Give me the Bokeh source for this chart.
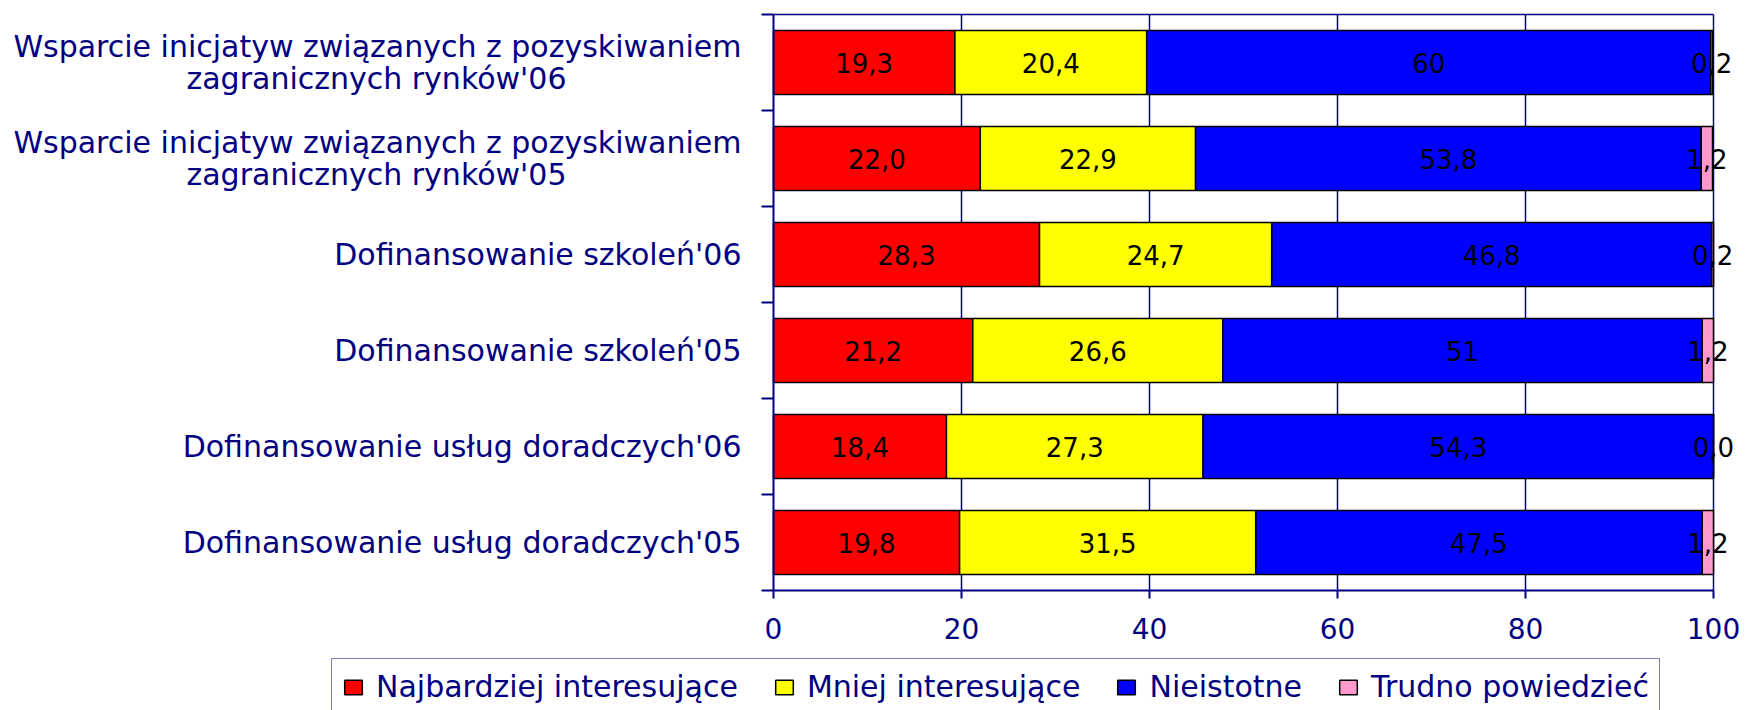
from bokeh.plotting import figure
from bokeh.models import (ColumnDataSource, LabelSet, Legend, LegendItem,
                          FixedTicker, Range1d, LinearAxis)
from bokeh.core.properties import value
from bokeh.embed import file_html
from bokeh.resources import INLINE

# ---------------- data (top to bottom) ----------------
categories = [
    "Wsparcie inicjatyw związanych z pozyskiwaniem\nzagranicznych rynków'06",
    "Wsparcie inicjatyw związanych z pozyskiwaniem\nzagranicznych rynków'05",
    "Dofinansowanie szkoleń'06",
    "Dofinansowanie szkoleń'05",
    "Dofinansowanie usług doradczych'06",
    "Dofinansowanie usług doradczych'05",
]
najbardziej = [19.3, 22.0, 28.3, 21.2, 18.4, 19.8]
mniej = [20.4, 22.9, 24.7, 26.6, 27.3, 31.5]
nieistotne = [60, 53.8, 46.8, 51, 54.3, 47.5]
trudno = [0.2, 1.2, 0.2, 1.2, 0.0, 1.2]

series_names = ["Najbardziej interesujące", "Mniej interesujące",
                "Nieistotne", "Trudno powiedzieć"]
x_ticks = [0, 20, 40, 60, 80, 100]

# ---------------- styling / layout ----------------
colors = ["#FF0000", "#FFFF00", "#0000FF", "#FF99CC"]
NAVY = "#000080"
FONT = "DejaVu Sans"

W, H = 1746, 710
X0_PX, X100_PX = 773, 1713      # canvas pixels of x = 0 and x = 100
YTOP_PX, YBOT_PX = 14, 590      # canvas pixels of the top / bottom of the bar area
LINE_PX = 32                    # line spacing of two-line category labels

n = len(categories)
ypos = [n - i - 0.5 for i in range(n)]
series = [najbardziej, mniej, nieistotne, trudno]
keys = ["s0", "s1", "s2", "s3"]

sx = (X100_PX - X0_PX) / 100.0
sy = (YBOT_PX - YTOP_PX) / float(n)
x_range = Range1d(-X0_PX / sx, (W - X0_PX) / sx)
y_range = Range1d(-(H - YBOT_PX) / sy, n + YTOP_PX / sy)

src = ColumnDataSource(dict(y=ypos, **{k: v for k, v in zip(keys, series)}))


def fmt(v):
    return str(v) if isinstance(v, int) else f"{v:.1f}".replace(".", ",")


# data labels: centre of each segment
lx, ly, lt = [], [], []
left = [0.0] * n
for vals in series:
    for i, v in enumerate(vals):
        lx.append(left[i] + v / 2.0)
        ly.append(ypos[i])
        lt.append(fmt(v))
        left[i] += v
lab_src = ColumnDataSource(dict(x=lx, y=ly, t=lt))

p = figure(width=W, height=H, x_range=x_range, y_range=y_range,
           output_backend="svg", toolbar_location=None,
           min_border_left=0, min_border_right=0,
           min_border_top=0, min_border_bottom=0)
p.background_fill_color = "white"
p.border_fill_color = "white"
p.outline_line_color = None
p.grid.visible = False

# vertical grid lines inside the bar area
gx = [t for t in x_ticks if t != x_ticks[0]]
p.segment(x0=gx, x1=gx, y0=[0] * len(gx), y1=[n] * len(gx),
          line_color=NAVY, line_width=1.5, level="underlay")

renderers = p.hbar_stack(keys, y="y", height=0.667, color=colors,
                         source=src, line_color="black", line_width=1.5)

# x axis at y = 0
xa = p.xaxis[0]
xa.fixed_location = 0
xa.ticker = FixedTicker(ticks=x_ticks)
xa.bounds = (0, 100)
xa.axis_line_color = NAVY
xa.axis_line_width = 2
xa.major_tick_line_color = NAVY
xa.major_tick_line_width = 2
xa.major_tick_out = 8
xa.major_tick_in = 0
xa.minor_tick_line_color = None
xa.major_label_text_font = FONT
xa.major_label_text_font_size = "28px"
xa.major_label_text_color = NAVY
xa.major_label_standoff = 19

# top border (0..100)
top = LinearAxis(ticker=FixedTicker(ticks=[]), bounds=(0, 100), fixed_location=n)
top.axis_line_color = NAVY
top.axis_line_width = 1.5
top.major_tick_line_color = None
top.minor_tick_line_color = None
top.major_label_text_font_size = "0px"
p.add_layout(top, "above")

# y axis at x = 0 with ticks on category boundaries
ya = p.yaxis[0]
ya.fixed_location = 0
ya.bounds = (0, n)
ya.ticker = FixedTicker(ticks=[], minor_ticks=list(range(n + 1)))
ya.axis_line_color = NAVY
ya.axis_line_width = 2
ya.minor_tick_line_color = NAVY
ya.minor_tick_line_width = 2
ya.minor_tick_out = 12
ya.minor_tick_in = 0
ya.major_tick_line_color = None
ya.major_label_text_font_size = "0px"

# category labels: block right-aligned next to the axis, lines centred
r_y, r_t, r_off, c_y, c_t, c_off = [], [], [], [], [], []
for y, c in zip(ypos, categories):
    lines = c.split("\n")
    m = len(lines)
    for k, line in enumerate(lines):
        off = ((m - 1) / 2.0 - k) * LINE_PX
        if k == 0:
            r_y.append(y); r_t.append(line); r_off.append(off)
        else:
            c_y.append(y); c_t.append(line); c_off.append(off)
r_src = ColumnDataSource(dict(y=r_y, t=r_t, o=r_off))
c_src = ColumnDataSource(dict(y=c_y, t=c_t, o=c_off))
p.add_layout(LabelSet(x=0, y="y", text="t", source=r_src, x_offset=-32,
                      y_offset="o", text_align="right", text_baseline="middle",
                      text_font=value(FONT), text_font_size="30px",
                      text_color=NAVY))
p.add_layout(LabelSet(x=0, y="y", text="t", source=c_src, x_offset=-397,
                      y_offset="o", text_align="center", text_baseline="middle",
                      text_font=value(FONT), text_font_size="30px",
                      text_color=NAVY))

# value labels
p.add_layout(LabelSet(x="x", y="y", text="t", source=lab_src,
                      text_align="center", text_baseline="middle",
                      text_font=value(FONT), text_font_size="26px",
                      text_color="black"))

legend = Legend(items=[LegendItem(label=nm, renderers=[r])
                       for nm, r in zip(series_names, renderers)],
                orientation="horizontal", location=(331, -5))
legend.label_text_font = FONT
legend.label_text_font_size = "30px"
legend.label_text_color = NAVY
legend.glyph_width = 22
legend.glyph_height = 18
legend.label_standoff = 12
legend.spacing = 35
legend.padding = 10
legend.margin = 0
legend.label_height = 32
legend.border_line_color = NAVY
legend.border_line_width = 1.5
legend.background_fill_color = "white"
legend.background_fill_alpha = 1.0
p.add_layout(legend)

open("out.html", "w").write(file_html(p, INLINE))
